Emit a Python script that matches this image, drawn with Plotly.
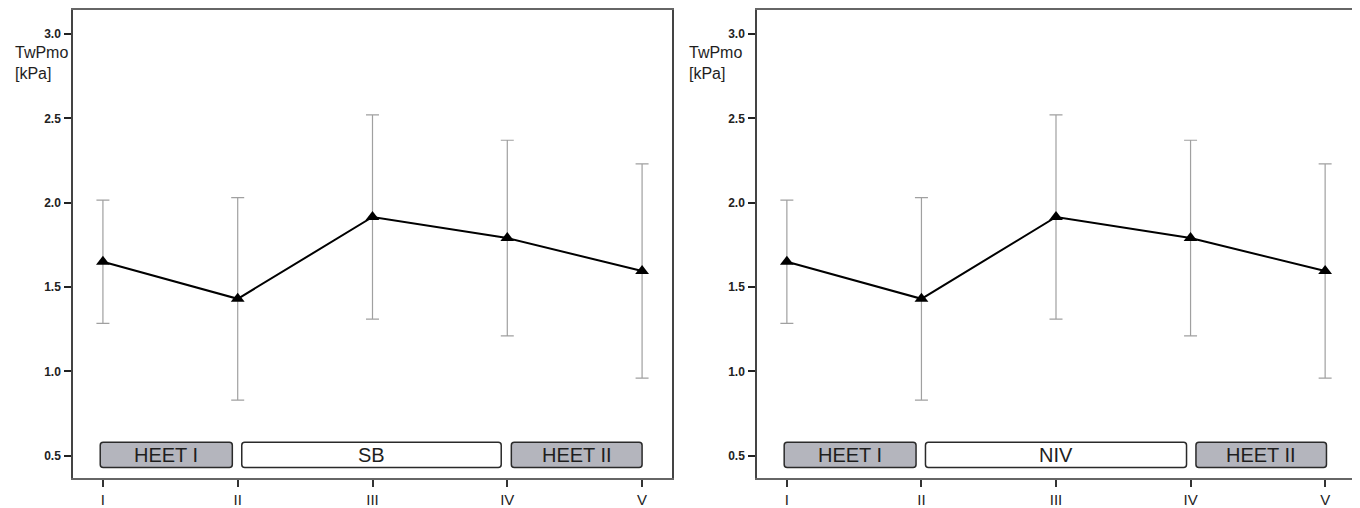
import plotly.graph_objects as go

# ---- data ----
timepoints = ["I", "II", "III", "IV", "V"]
tick_pos = [1, 2, 3, 4, 5]
mean_twpmo = [1.65, 1.43, 1.915, 1.79, 1.595]
sd_twpmo = [0.365, 0.60, 0.605, 0.58, 0.635]
y_ticks = [0.5, 1.0, 1.5, 2.0, 2.5, 3.0]
y_ticklabels = ["0.5", "1.0", "1.5", "2.0", "2.5", "3.0"]

panel_phases = [
    [("HEET I", 0.98, 1.96, True), ("SB", 2.03, 3.955, False), ("HEET II", 4.03, 5.0, True)],
    [("HEET I", 0.98, 1.96, True), ("NIV", 2.03, 3.97, False), ("HEET II", 4.04, 5.01, True)],
]
phase_y = (0.43, 0.58)

FONT = "Liberation Sans, Arial, sans-serif"
W, H = 1352, 500
X_RANGE = [0.778, 5.222]
Y_RANGE = [0.368, 3.142]


def rounded_path(x0, x1, y0, y1, rx, ry):
    return (f"M {x0+rx},{y0} L {x1-rx},{y0} Q {x1},{y0} {x1},{y0+ry} "
            f"L {x1},{y1-ry} Q {x1},{y1} {x1-rx},{y1} "
            f"L {x0+rx},{y1} Q {x0},{y1} {x0},{y1-ry} "
            f"L {x0},{y0+ry} Q {x0},{y0} {x0+rx},{y0} Z")


fig = go.Figure()

domains = [[65 / W, 664 / W], [749 / W, 1347 / W]]
title_x = [5 / W, 679 / W]

# pixel -> data scale for corner radius
px_x = (X_RANGE[1] - X_RANGE[0]) / 599
px_y = (Y_RANGE[1] - Y_RANGE[0]) / 468

for i in range(2):
    xa = "x" if i == 0 else "x2"
    ya = "y" if i == 0 else "y2"
    fig.add_trace(go.Scatter(
        x=tick_pos, y=mean_twpmo, xaxis=xa, yaxis=ya,
        mode="lines+markers",
        line=dict(color="black", width=2),
        marker=dict(symbol="triangle-up", size=12, color="black"),
        error_y=dict(type="data", array=sd_twpmo, visible=True,
                     color="#a0a0a0", thickness=1.2, width=6.5),
        showlegend=False, hoverinfo="skip",
    ))
    for label, x0, x1, grey in panel_phases[i]:
        fig.add_shape(type="path", xref=xa, yref=ya,
                      path=rounded_path(x0, x1, phase_y[0], phase_y[1], 3 * px_x, 3 * px_y),
                      fillcolor="#b4b5bd" if grey else "white",
                      line=dict(color="#2a2a2a", width=1.5), layer="above")
        fig.add_annotation(x=(x0 + x1) / 2, y=(phase_y[0] + phase_y[1]) / 2,
                           xref=xa, yref=ya, text=label, showarrow=False,
                           font=dict(family=FONT, size=20, color="#1e1e1e"))
    fig.add_annotation(x=title_x[i], y=(470 - 55) / 468, xref="paper", yref="paper",
                       xanchor="left", yanchor="middle", align="left",
                       text="TwPmo<br>[kPa]", showarrow=False,
                       font=dict(family=FONT, size=16, color="#1e1e1e"))

axis_common_x = dict(
    range=X_RANGE, tickvals=tick_pos, ticktext=timepoints,
    ticks="outside", ticklen=7, tickwidth=1.5, tickcolor="#333",
    showline=True, linecolor="#666", linewidth=1.5, mirror=True,
    showgrid=False, zeroline=False, automargin=False,
    tickfont=dict(family=FONT, size=15, color="#222"),
    ticklabelstandoff=0,
)
axis_common_y = dict(
    range=Y_RANGE, tickvals=y_ticks, ticktext=y_ticklabels,
    ticks="outside", ticklen=7, tickwidth=1.5, tickcolor="#222",
    showline=True, linecolor="#444", linewidth=1.5, mirror=True,
    showgrid=False, zeroline=False, automargin=False,
    tickfont=dict(family=FONT, size=12, color="#222", weight="bold"),
    ticklabelstandoff=1,
)

fig.update_layout(
    width=W, height=H,
    margin=dict(l=0, r=0, t=2, b=30),
    paper_bgcolor="white", plot_bgcolor="white",
    xaxis=dict(domain=domains[0], anchor="y", **axis_common_x),
    yaxis=dict(domain=[0, 1], anchor="x", **axis_common_y),
    xaxis2=dict(domain=domains[1], anchor="y2", **axis_common_x),
    yaxis2=dict(domain=[0, 1], anchor="x2", **axis_common_y),
)

fig.write_html("out.html")
